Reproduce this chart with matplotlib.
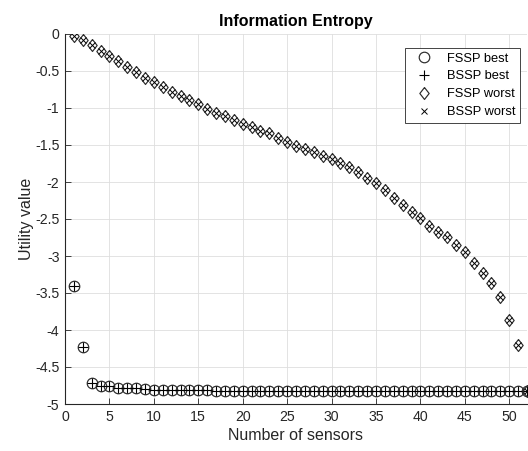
import matplotlib
matplotlib.use("Agg")
import matplotlib.pyplot as plt
from matplotlib.ticker import FuncFormatter

plt.rcParams['font.family'] = ['Liberation Sans', 'DejaVu Sans']
plt.rcParams['axes.unicode_minus'] = False

sensors = list(range(1, 53))
fssp_best = [-3.40, -4.23, -4.72, -4.75, -4.76, -4.78, -4.78, -4.79, -4.80, -4.81,
             -4.81, -4.81, -4.81, -4.81, -4.81, -4.81, -4.82, -4.82, -4.82, -4.82,
             -4.82, -4.82, -4.82, -4.82, -4.82, -4.82, -4.82, -4.82, -4.82, -4.82,
             -4.82, -4.82, -4.82, -4.82, -4.82, -4.82, -4.82, -4.82, -4.82, -4.82,
             -4.82, -4.82, -4.82, -4.82, -4.82, -4.82, -4.82, -4.82, -4.82, -4.82,
             -4.82, -4.82]
bssp_best = list(fssp_best)
fssp_worst = [-0.03, -0.08, -0.15, -0.23, -0.30, -0.37, -0.45, -0.51, -0.59, -0.65,
              -0.71, -0.78, -0.84, -0.89, -0.95, -1.02, -1.07, -1.11, -1.16, -1.21,
              -1.26, -1.31, -1.34, -1.40, -1.46, -1.51, -1.56, -1.59, -1.65, -1.69,
              -1.75, -1.80, -1.87, -1.95, -2.01, -2.11, -2.21, -2.31, -2.40, -2.49,
              -2.59, -2.67, -2.75, -2.85, -2.94, -3.10, -3.23, -3.37, -3.55, -3.86,
              -4.20, -4.82]
bssp_worst = list(fssp_worst)
labels = ['FSSP best', 'BSSP best', 'FSSP worst', 'BSSP worst']

fig = plt.figure(figsize=(5.28, 4.51), dpi=100)
ax = fig.add_axes([65/528, 47/451, 462/528, 370/451])

dark = '#262626'
mk = '#2a2a2a'
diamond = [(0, 1), (0.78, 0), (0, -1), (-0.78, 0), (0, 1)]
ax.plot(sensors, fssp_best, linestyle='none', marker='o', markersize=7.6,
        markerfacecolor='none', markeredgecolor=mk, markeredgewidth=0.85, label=labels[0])
ax.plot(sensors, bssp_best, linestyle='none', marker='+', markersize=6.8,
        color='black', markeredgewidth=0.8, label=labels[1])
ax.plot(sensors, fssp_worst, linestyle='none', marker=diamond, markersize=8.6,
        markerfacecolor='none', markeredgecolor=mk, markeredgewidth=0.85, label=labels[2])
ax.plot(sensors, bssp_worst, linestyle='none', marker='x', markersize=4.2,
        color='black', markeredgewidth=0.7, label=labels[3])

ax.set_xlim(0, 52)
ax.set_ylim(-5, 0)
ax.set_xticks(range(0, 51, 5))
ax.set_yticks([-5, -4.5, -4, -3.5, -3, -2.5, -2, -1.5, -1, -0.5, 0])
ax.yaxis.set_major_formatter(FuncFormatter(lambda v, p: ('%g' % v) if v != 0 else '0'))

ax.grid(True, color='#dedede', linewidth=0.6)
ax.set_axisbelow(True)
for s in ['top', 'right']:
    ax.spines[s].set_visible(False)
for s in ['left', 'bottom']:
    ax.spines[s].set_color(dark)
    ax.spines[s].set_linewidth(0.8)
ax.tick_params(direction='in', length=4, width=0.6, colors=dark, labelsize=10.2,
               labelcolor=dark, pad=4)

ax.set_xlabel('Number of sensors', fontsize=11.5, color=dark, labelpad=3)
ax.set_ylabel('Utility value', fontsize=11.5, color=dark, labelpad=1)
ax.set_title('Information Entropy', fontsize=11.5, fontweight='bold', color='black', pad=6)

leg = ax.legend(loc='upper right', bbox_to_anchor=(0.985, 0.962), fontsize=9.3,
                frameon=True, fancybox=False, framealpha=1, edgecolor=dark,
                borderpad=0.35, labelspacing=0.45, handletextpad=0.7, handlelength=2.2,
                borderaxespad=0)
leg.get_frame().set_linewidth(0.6)

fig.savefig('out.png', dpi=100)
